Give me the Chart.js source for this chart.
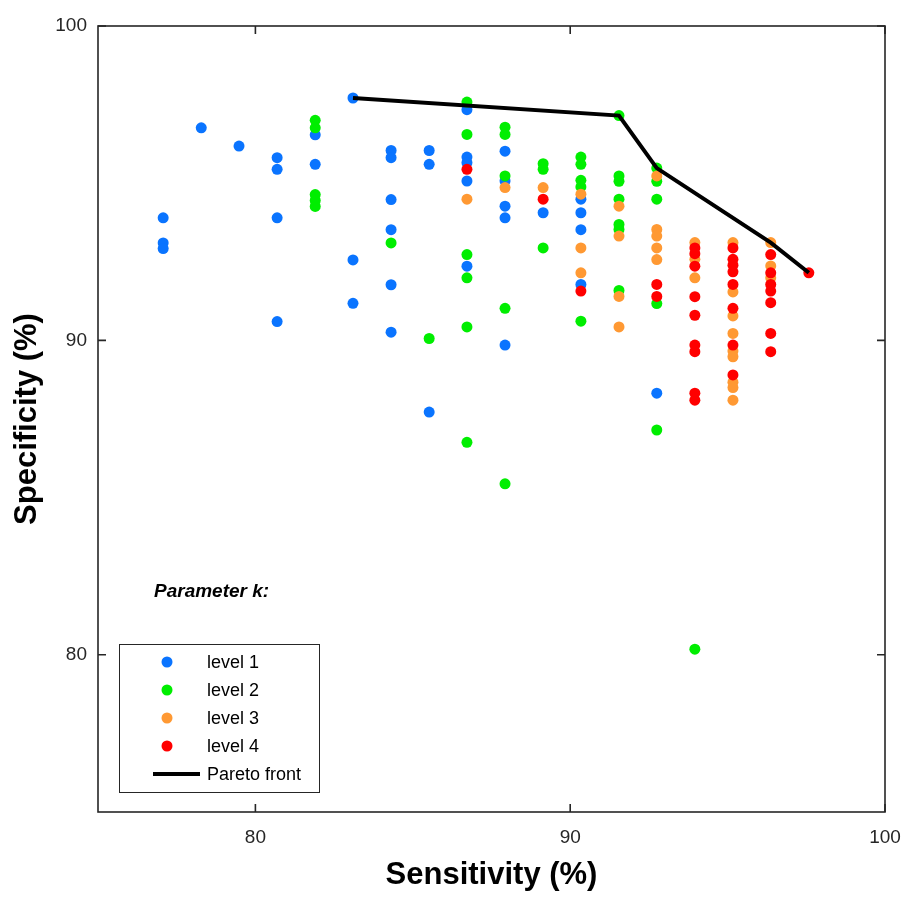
<!DOCTYPE html>
<html>
<head>
<meta charset="utf-8">
<script src="https://cdn.jsdelivr.net/npm/chart.js@4.4.0/dist/chart.umd.min.js"></script>
<style>
  body { margin: 0; background: #fff; }
  #wrap { width: 905px; height: 900px; }
</style>
</head>
<body>
<div id="wrap"><canvas id="chart" width="905" height="900"></canvas></div>
<script>
// values
var xTicks = [80, 90, 100];
var yTicks = [80, 90, 100];

var level1Sens = [77.07, 77.07, 77.07, 78.28, 79.48, 80.69, 80.69, 80.69, 80.69, 81.90, 81.90,
    83.10, 83.10, 83.10, 84.31, 84.31, 84.31, 84.31, 84.31, 84.31, 85.52, 85.52, 85.52,
    86.72, 86.72, 86.72, 86.72, 86.72, 87.93, 87.93, 87.93, 87.93, 87.93, 89.14,
    90.34, 90.34, 90.34, 90.34, 92.75];
var level1Spec = [93.90, 93.10, 92.92, 96.76, 96.18, 95.81, 95.44, 93.90, 90.60, 96.54, 95.60,
    97.71, 92.56, 91.18, 96.04, 95.81, 94.48, 93.52, 91.77, 90.26, 96.04, 95.60, 87.72,
    97.34, 95.83, 95.65, 95.07, 92.36, 96.02, 95.07, 94.27, 93.90, 89.85, 94.06,
    94.49, 94.06, 93.52, 91.78, 88.32];

var level2Sens = [81.90, 81.90, 81.90, 81.90, 81.90, 84.31, 85.52,
    86.72, 86.72, 86.72, 86.72, 86.72, 86.72, 87.93, 87.93, 87.93, 87.93, 87.93,
    89.14, 89.14, 89.14, 90.34, 90.34, 90.34, 90.34, 90.34,
    91.55, 91.55, 91.55, 91.55, 91.55, 91.55, 91.55, 92.75, 92.75, 92.75, 92.75, 92.75, 93.96];
var level2Spec = [97.00, 96.76, 94.64, 94.45, 94.26, 93.10, 90.06,
    97.58, 96.55, 92.73, 91.99, 90.43, 86.76, 96.78, 96.55, 95.23, 91.02, 85.44,
    95.62, 95.44, 92.94, 95.83, 95.60, 95.09, 94.88, 90.61,
    97.15, 95.23, 95.06, 94.49, 93.69, 93.53, 91.59, 95.48, 95.06, 94.49, 91.17, 87.15, 80.18];

var level3Sens = [86.72, 87.93, 89.14, 90.34, 90.34, 90.34, 91.55, 91.55, 91.55, 91.55,
    92.75, 92.75, 92.75, 92.75, 92.75, 93.96, 93.96, 93.96,
    95.17, 95.17, 95.17, 95.17, 95.17, 95.17, 95.17, 95.17, 95.17, 96.37, 96.37, 96.37];
var level3Spec = [94.49, 94.86, 94.86, 94.65, 92.94, 92.15, 94.27, 93.32, 91.40, 90.43,
    95.23, 93.53, 93.32, 92.94, 92.57, 93.11, 92.58, 91.99,
    93.11, 91.54, 90.78, 90.22, 89.66, 89.48, 88.67, 88.50, 88.10, 93.11, 92.37, 91.99];

var level4Sens = [86.72, 89.14, 90.34, 92.75, 92.75,
    93.96, 93.96, 93.96, 93.96, 93.96, 93.96, 93.96, 93.96, 93.96,
    95.17, 95.17, 95.17, 95.17, 95.17, 95.17, 95.17, 95.17,
    96.37, 96.37, 96.37, 96.37, 96.37, 96.37, 96.37, 97.58];
var level4Spec = [95.44, 94.49, 91.57, 91.78, 91.40,
    92.94, 92.76, 92.36, 91.39, 90.80, 89.85, 89.64, 88.32, 88.10,
    92.94, 92.58, 92.39, 92.18, 91.78, 91.02, 89.85, 88.90,
    92.73, 92.15, 91.78, 91.57, 91.20, 90.22, 89.64, 92.15];

var paretoSens = [83.10, 91.55, 92.75, 96.37, 97.58];
var paretoSpec = [97.71, 97.15, 95.48, 93.11, 92.15];

var levelNames = ['level 1', 'level 2', 'level 3', 'level 4'];
var levelColors = ['#0a74ff', '#00ee00', '#ff9933', '#ff0000'];

function zip(xs, ys) {
    return xs.map(function (x, i) { return { x: x, y: ys[i] }; });
}

var textColor = '#262626';
var fontFamily = 'Arial, "Liberation Sans", Helvetica, sans-serif';

// box, inward ticks, legend and the "Parameter k:" note
var decor = {
    id: 'decor',
    afterDatasetsDraw: function (chart) {
        var ctx = chart.ctx;
        var a = chart.chartArea;
        var xs = chart.scales.x, ys = chart.scales.y;
        ctx.save();
        ctx.strokeStyle = textColor;
        ctx.lineWidth = 1.6;
        ctx.strokeRect(a.left, a.top, a.right - a.left, a.bottom - a.top);
        ctx.beginPath();
        xTicks.forEach(function (v) {
            var px = xs.getPixelForValue(v);
            ctx.moveTo(px, a.bottom); ctx.lineTo(px, a.bottom - 8);
            ctx.moveTo(px, a.top); ctx.lineTo(px, a.top + 8);
        });
        yTicks.forEach(function (v) {
            var py = ys.getPixelForValue(v);
            ctx.moveTo(a.left, py); ctx.lineTo(a.left + 8, py);
            ctx.moveTo(a.right, py); ctx.lineTo(a.right - 8, py);
        });
        ctx.stroke();

        // note above legend
        ctx.fillStyle = '#000';
        ctx.font = 'italic bold 19px ' + fontFamily;
        ctx.textAlign = 'left';
        ctx.textBaseline = 'alphabetic';
        ctx.fillText('Parameter k:', a.left + 56, 597);

        // legend box
        var lx = a.left + 21, ly = 644, lw = 200, lh = 148;
        ctx.fillStyle = '#fff';
        ctx.fillRect(lx, ly, lw, lh);
        ctx.strokeStyle = '#262626';
        ctx.lineWidth = 1;
        ctx.strokeRect(lx + 0.5, ly + 0.5, lw, lh);
        ctx.font = '18px ' + fontFamily;
        ctx.textBaseline = 'middle';
        var rows = [662, 690, 718, 746, 774];
        levelNames.forEach(function (name, i) {
            ctx.fillStyle = levelColors[i];
            ctx.beginPath();
            ctx.arc(lx + 48, rows[i], 5.5, 0, Math.PI * 2);
            ctx.fill();
            ctx.fillStyle = '#000';
            ctx.fillText(name, lx + 88, rows[i] + 1);
        });
        ctx.strokeStyle = '#000';
        ctx.lineWidth = 4;
        ctx.beginPath();
        ctx.moveTo(lx + 34, rows[4]);
        ctx.lineTo(lx + 81, rows[4]);
        ctx.stroke();
        ctx.fillStyle = '#000';
        ctx.fillText('Pareto front', lx + 88, rows[4] + 1);
        ctx.restore();
    }
};

var datasets = [
    { label: levelNames[0], data: zip(level1Sens, level1Spec), order: 4 },
    { label: levelNames[1], data: zip(level2Sens, level2Spec), order: 3 },
    { label: levelNames[2], data: zip(level3Sens, level3Spec), order: 2 },
    { label: levelNames[3], data: zip(level4Sens, level4Spec), order: 1 }
].map(function (d, i) {
    d.backgroundColor = levelColors[i];
    d.borderWidth = 0;
    d.pointRadius = 5.5;
    d.pointHoverRadius = 5.5;
    return d;
});

datasets.push({
    type: 'line',
    label: 'Pareto front',
    data: zip(paretoSens, paretoSpec),
    borderColor: '#000',
    borderWidth: 4,
    pointRadius: 0,
    fill: false,
    tension: 0,
    order: 0
});

var c = document.getElementById('chart');
var ctx = c.getContext('2d');
var myChart = new Chart(ctx, {
    type: 'scatter',
    data: { datasets: datasets },
    options: {
        responsive: false,
        animation: false,
        layout: { padding: { top: 26, right: 20, left: 0, bottom: 0 } },
        plugins: { legend: { display: false }, tooltip: { enabled: false } },
        scales: {
            x: {
                min: 75, max: 100,
                afterBuildTicks: function (s) { s.ticks = xTicks.map(function (v) { return { value: v }; }); },
                afterFit: function (s) { s.height = 88; s.paddingLeft = 0; s.paddingRight = 0; },
                grid: { display: false, drawTicks: false },
                border: { display: false },
                ticks: { color: textColor, padding: 14, font: { family: fontFamily, size: 19 } },
                title: {
                    display: true, text: 'Sensitivity (%)', color: '#000',
                    font: { family: fontFamily, size: 31, weight: 'bold' },
                    padding: { top: 0, bottom: 6 }
                }
            },
            y: {
                min: 75, max: 100,
                afterBuildTicks: function (s) { s.ticks = yTicks.map(function (v) { return { value: v }; }); },
                afterFit: function (s) { s.width = 98; s.paddingTop = 0; s.paddingBottom = 0; },
                grid: { display: false, drawTicks: false },
                border: { display: false },
                ticks: { color: textColor, padding: 11, font: { family: fontFamily, size: 19 } },
                title: {
                    display: true, text: 'Specificity (%)', color: '#000',
                    font: { family: fontFamily, size: 31, weight: 'bold' },
                    padding: { top: 9, bottom: 0 }
                }
            }
        }
    },
    plugins: [decor]
});
</script>
</body>
</html>
